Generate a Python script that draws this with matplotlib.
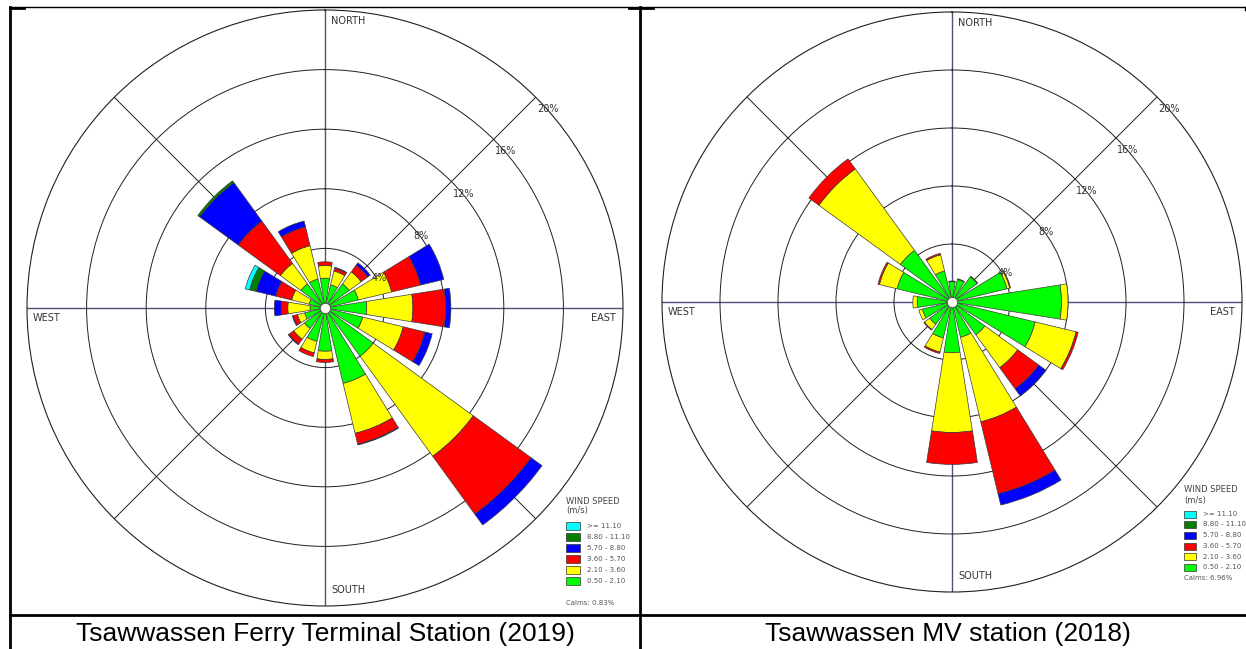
import matplotlib
matplotlib.use('Agg')
import matplotlib.pyplot as plt
from matplotlib.lines import Line2D
from matplotlib.patches import Rectangle
import numpy as np

W_PX, H_PX = 1246, 649

directions = ['N', 'NNE', 'NE', 'ENE', 'E', 'ESE', 'SE', 'SSE',
              'S', 'SSW', 'SW', 'WSW', 'W', 'WNW', 'NW', 'NNW']
speed_labels = ['0.50 - 2.10', '2.10 - 3.60', '3.60 - 5.70',
                '5.70 - 8.80', '8.80 - 11.10', '>= 11.10']
speed_colors = ['#00ff00', '#ffff00', '#ff0000', '#0000ff', '#007f00', '#00ffff']
ring_values = [4, 8, 12, 16, 20]

# Tsawwassen Ferry Terminal Station (2019), frequency in % per speed class
ferry_0_50 = [2.0, 1.6, 2.0, 2.3, 2.8, 2.6, 4.0, 5.2, 2.9, 2.3, 1.7, 1.4, 1.0, 1.1, 2.0, 2.0]
ferry_2_10 = [0.85, 0.95, 1.0, 2.3, 3.1, 2.8, 8.3, 3.45, 0.55, 0.8, 0.9, 0.5, 1.5, 1.2, 1.7, 2.3]
ferry_3_60 = [0.25, 0.2, 0.55, 2.0, 2.2, 1.5, 4.8, 0.75, 0.2, 0.25, 0.4, 0.3, 0.45, 1.1, 3.5, 1.3]
ferry_5_70 = [0.0, 0.05, 0.2, 1.6, 0.35, 0.5, 0.9, 0.05, 0.0, 0.0, 0.05, 0.05, 0.45, 1.35, 3.2, 0.4]
ferry_8_80 = [0, 0, 0, 0, 0, 0, 0, 0, 0, 0, 0, 0, 0, 0.45, 0.15, 0]
ferry_11_10 = [0, 0, 0, 0, 0, 0, 0, 0, 0, 0, 0, 0, 0, 0.3, 0, 0]
ferry_calms = 0.83

# Tsawwassen MV station (2018)
mv_0_50 = [1.4, 1.6, 2.15, 3.9, 7.55, 5.9, 2.8, 2.5, 3.5, 2.55, 1.9, 2.1, 2.4, 3.9, 4.4, 2.2]
mv_2_10 = [0.05, 0.05, 0.05, 0.2, 0.45, 2.9, 2.8, 6.0, 5.5, 1.0, 0.45, 0.25, 0.3, 1.25, 6.95, 1.15]
mv_3_60 = [0, 0, 0, 0.05, 0, 0.15, 1.8, 5.1, 2.2, 0.1, 0.05, 0, 0, 0.1, 0.85, 0.1]
mv_5_70 = [0, 0, 0, 0, 0, 0, 0.6, 0.8, 0, 0, 0, 0, 0, 0, 0, 0]
mv_8_80 = [0] * 16
mv_11_10 = [0] * 16
mv_calms = 6.96

captions = ['Tsawwassen Ferry Terminal Station (2019)', 'Tsawwassen MV station (2018)']


def fx(x):
    return x / W_PX


def fy(y):
    return 1 - y / H_PX


def draw_rose(fig, cx, cy, radius, classes):
    ax = fig.add_axes([fx(cx - radius), fy(cy + radius), 2 * radius / W_PX, 2 * radius / H_PX],
                      projection='polar')
    ax.set_theta_zero_location('N')
    ax.set_theta_direction(-1)
    ax.set_ylim(0, 20)

    theta = np.deg2rad(np.arange(len(directions)) * 22.5)
    bottom = np.zeros(len(directions))
    for values, color in zip(classes, speed_colors):
        values = np.asarray(values, dtype=float)
        keep = values > 0
        if keep.any():
            ax.bar(theta[keep], values[keep], width=np.deg2rad(18), bottom=bottom[keep],
                   color=color, edgecolor='#3a3a3a', linewidth=0.5, zorder=3)
        bottom += values

    ax.set_thetagrids(np.arange(0, 360, 45), labels=[])
    ax.set_rgrids(ring_values[:-1], labels=[])
    ax.grid(True, color='#202020', linewidth=0.7)
    for i, line in enumerate(ax.xaxis.get_gridlines()):
        if i % 2 == 0:
            line.set_color('#50507a')
            line.set_linewidth(1.0)
    ax.spines['polar'].set_color('#202020')
    ax.spines['polar'].set_linewidth(0.8)
    ax.tick_params(length=0)

    # calm hole in the middle
    ax.scatter([0], [0], s=55, c='white', edgecolors='#505050', linewidths=0.6, zorder=6)

    for r in ring_values:
        ax.annotate(f'{r}%', xy=(np.deg2rad(45), r), xytext=(12, -12), textcoords='offset pixels',
                    ha='center', va='center', fontsize=7, color='#333333', zorder=7)

    lab = dict(fontsize=7, color='#333333', textcoords='offset pixels', va='center', zorder=7)
    ax.annotate('NORTH', xy=(0, 20), xytext=(6, -11), ha='left', **lab)
    ax.annotate('SOUTH', xy=(np.pi, 20), xytext=(6, 16), ha='left', **lab)
    ax.annotate('WEST', xy=(1.5 * np.pi, 20), xytext=(6, -10), ha='left', **lab)
    ax.annotate('EAST', xy=(0.5 * np.pi, 20), xytext=(-7, -10), ha='right', **lab)
    return ax


def draw_key(fig, x, y_title, rows_y, sw_w, sw_h, calms_y, calms):
    fig.text(fx(x), fy(y_title), 'WIND SPEED', fontsize=6, color='#444444', va='center')
    fig.text(fx(x), fy(y_title + 10), '(m/s)', fontsize=6, color='#444444', va='center')
    for row_y, label, color in zip(rows_y, speed_labels[::-1], speed_colors[::-1]):
        fig.add_artist(Rectangle((fx(x), fy(row_y + sw_h / 2)), sw_w / W_PX, sw_h / H_PX,
                                 transform=fig.transFigure, facecolor=color,
                                 edgecolor='#333333', linewidth=0.5))
        fig.text(fx(x + sw_w + 7), fy(row_y), label, fontsize=5, color='#555555', va='center')
    fig.text(fx(x), fy(calms_y), f'Calms: {calms:.2f}%', fontsize=5, color='#555555', va='center')


fig = plt.figure(figsize=(W_PX / 100, H_PX / 100), dpi=100)

draw_rose(fig, 325, 308, 298,
          [ferry_0_50, ferry_2_10, ferry_3_60, ferry_5_70, ferry_8_80, ferry_11_10])
draw_rose(fig, 952, 302, 290,
          [mv_0_50, mv_2_10, mv_3_60, mv_5_70, mv_8_80, mv_11_10])

draw_key(fig, 566, 501, [525.7, 536.7, 548, 559.3, 570, 581], 14, 8, 603, ferry_calms)
draw_key(fig, 1184, 490, [514, 524.3, 535.3, 546, 556.7, 567.3], 12, 7, 578, mv_calms)

# table borders
def hline(x0, x1, y, lw):
    fig.add_artist(Line2D([fx(x0), fx(x1)], [fy(y), fy(y)], transform=fig.transFigure,
                          color='black', linewidth=lw))


def vline(x, y0, y1, lw):
    fig.add_artist(Line2D([fx(x), fx(x)], [fy(y0), fy(y1)], transform=fig.transFigure,
                          color='black', linewidth=lw))


hline(10, 1245, 7, 1.0)
hline(10, 24, 7.5, 2.0)
hline(629, 653, 7.5, 2.0)
hline(10, 1245, 614.5, 2.0)
vline(10, 7, 649, 2.0)
vline(640, 7, 649, 2.0)
vline(1245, 7, 10, 1.0)

fig.text(fx(325), fy(641), captions[0], fontsize=19, family='Liberation Sans',
         ha='center', va='baseline')
fig.text(fx(948), fy(641), captions[1], fontsize=19, family='Liberation Sans',
         ha='center', va='baseline')

fig.savefig('out.png', dpi=100)
